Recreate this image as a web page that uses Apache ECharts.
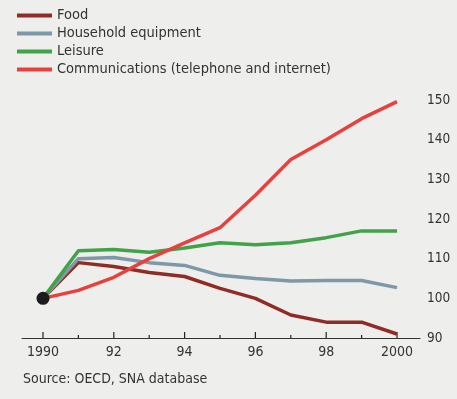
<!DOCTYPE html>
<html>
<head>
<meta charset="utf-8">
<script src="https://cdn.jsdelivr.net/npm/echarts@6/dist/echarts.min.js"></script>
<style>
  html, body { margin: 0; padding: 0; background: #eeeeec; }
  #main { width: 457px; height: 399px; }
</style>
</head>
<body>
<div id="main"></div>
<script>
// years on the x axis
const years = [1990, 1991, 1992, 1993, 1994, 1995, 1996, 1997, 1998, 1999, 2000];

// index, 1990 = 100
const food = [100, 109, 108, 106.5, 105.5, 102.5, 100, 95.8, 94, 94, 91];
const household = [100, 110, 110.3, 109, 108.3, 105.8, 105, 104.4, 104.5, 104.5, 102.7];
const leisure = [100, 112, 112.3, 111.6, 112.7, 114, 113.5, 114, 115.3, 117, 117];
const communications = [100, 102, 105.3, 110, 114, 117.8, 126, 135, 140, 145.3, 149.6];
const startPoint = [1990, 100];
const axisBase = 90;

const names = ['Food', 'Household equipment', 'Leisure', 'Communications (telephone and internet)'];
const colors = ['#8e2c25', '#7d98a6', '#42a24a', '#e8403c'];
const values = [food, household, leisure, communications];

const fontFamily = '"DejaVu Sans Condensed", "DejaVu Sans", sans-serif';

const chart = echarts.init(document.getElementById('main'));

// grid 1 holds the data (1990..2000 exactly), grid 0 is a bit wider and only draws the axis line + y labels
const lineSeries = names.map((n, i) => ({
  name: n,
  type: 'line',
  xAxisIndex: 1,
  yAxisIndex: 1,
  data: years.map((y, j) => [y, values[i][j]]),
  showSymbol: false,
  symbol: 'none',
  lineStyle: { color: colors[i], width: 3.5 },
  itemStyle: { color: colors[i] },
  z: 2 + i,
}));

// year ticks: long on even years, short on odd ones
const tickSeries = {
  name: 'ticks',
  type: 'custom',
  xAxisIndex: 1,
  yAxisIndex: 1,
  silent: true,
  clip: false,
  z: 1,
  data: years.map(y => [y, axisBase]),
  renderItem: (params, api) => {
    const year = api.value(0);
    const p = api.coord([year, api.value(1)]);
    const len = year % 2 === 0 ? 6 : 3;
    return {
      type: 'line',
      shape: { x1: p[0], y1: p[1], x2: p[0], y2: p[1] - len },
      style: { stroke: '#222', lineWidth: 1.2 },
    };
  },
};

const option = {
  backgroundColor: '#eeeeec',
  animation: false,
  textStyle: { fontFamily: fontFamily },
  legend: {
    orient: 'vertical',
    left: 17,
    top: 8,
    padding: 0,
    icon: 'rect',
    itemWidth: 35,
    itemHeight: 4,
    itemGap: 3,
    data: names,
    textStyle: { fontSize: 14.5, color: '#333', fontFamily: fontFamily },
  },
  grid: [
    { left: 22, right: 37, top: 100, bottom: 61 },
    { left: 43, right: 60, top: 100, bottom: 61 },
  ],
  xAxis: [{
    gridIndex: 0,
    type: 'value',
    min: 0,
    max: 1,
    axisLine: { show: true, lineStyle: { color: '#333', width: 1 } },
    axisTick: { show: false },
    axisLabel: { show: false },
    splitLine: { show: false },
  }, {
    gridIndex: 1,
    type: 'value',
    position: 'bottom',
    min: 1990,
    max: 2000,
    interval: 2,
    axisLine: { show: false },
    axisTick: { show: false },
    axisLabel: {
      color: '#333',
      fontSize: 14,
      margin: 7,
      formatter: v => (v === 1990 || v === 2000) ? String(v) : String(v).slice(2),
    },
    splitLine: { show: false },
  }],
  yAxis: [{
    gridIndex: 0,
    type: 'value',
    position: 'right',
    min: 90,
    max: 150,
    interval: 10,
    axisLine: { show: false },
    axisTick: { show: false },
    splitLine: { show: false },
    axisLabel: { color: '#333', fontSize: 13.5, margin: 7 },
  }, {
    gridIndex: 1,
    type: 'value',
    min: 90,
    max: 150,
    interval: 10,
    show: false,
  }],
  series: lineSeries.concat([tickSeries, {
    name: 'start',
    type: 'scatter',
    xAxisIndex: 1,
    yAxisIndex: 1,
    data: [startPoint],
    symbolSize: 13,
    itemStyle: { color: '#1c1c1c', opacity: 1 },
    z: 10,
  }]),
  graphic: [{
    type: 'text',
    left: 23,
    top: 372,
    style: { text: 'Source: OECD, SNA database', fill: '#333', fontSize: 14, fontFamily: fontFamily },
  }],
};

chart.setOption(option);
</script>
</body>
</html>
